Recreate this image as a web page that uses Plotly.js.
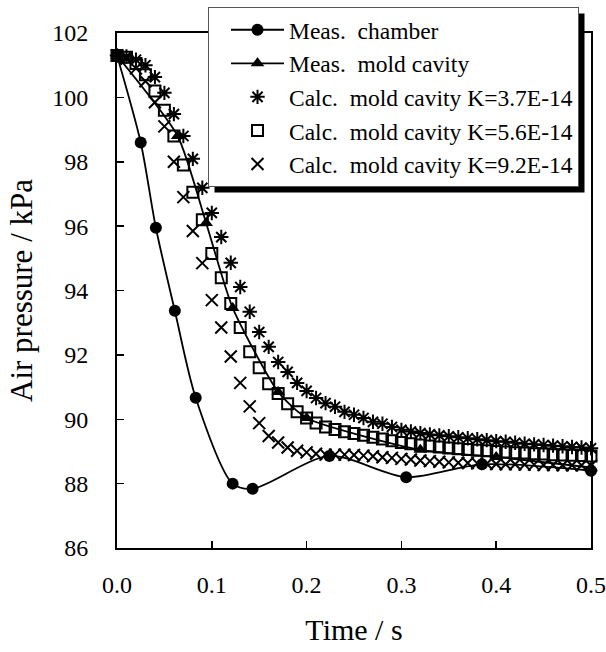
<!DOCTYPE html>
<html>
<head>
<meta charset="utf-8">
<script src="https://cdn.plot.ly/plotly-3.0.1.min.js"></script>
<style>html,body{margin:0;padding:0;background:#fff;}#chart{width:606px;height:652px;}</style>
</head>
<body>
<div id="chart"></div>
<script>
// Measured chamber pressure
var chamberT = [0, 0.025, 0.041, 0.061, 0.083, 0.122, 0.143, 0.224, 0.305, 0.385, 0.5];
var chamberP = [101.3, 98.6, 95.95, 93.37, 90.67, 88.0, 87.84, 88.86, 88.2, 88.6, 88.4];

// Measured mold cavity pressure
var cavityT = [0, 0.064, 0.094, 0.122, 0.17, 0.2, 0.32, 0.40, 0.5];
var cavityP = [101.3, 98.8, 96.1, 93.46, 90.85, 90.04, 89.05, 88.83, 88.5];

// Calculation time grid
var calcT = [0,0.01,0.02,0.03,0.04,0.05,0.06,0.07,0.08,0.09,
  0.10,0.11,0.12,0.13,0.14,0.15,0.16,0.17,0.18,0.19,
  0.20,0.21,0.22,0.23,0.24,0.25,0.26,0.27,0.28,0.29,
  0.30,0.31,0.32,0.33,0.34,0.35,0.36,0.37,0.38,0.39,
  0.40,0.41,0.42,0.43,0.44,0.45,0.46,0.47,0.48,0.49,0.50];

// Calc. K=3.7E-14
var calcK37 = [101.3,101.27,101.17,101.0,100.63,100.14,99.48,98.8,98.09,97.19,
  96.41,95.66,94.86,94.11,93.34,92.71,92.25,91.78,91.47,91.13,
  90.88,90.66,90.5,90.39,90.23,90.14,90.04,89.92,89.86,89.76,
  89.67,89.62,89.57,89.53,89.5,89.47,89.44,89.41,89.38,89.35,
  89.32,89.3,89.27,89.24,89.22,89.2,89.18,89.16,89.14,89.12,89.1];

// Calc. K=5.6E-14
var calcK56 = [101.3,101.25,101.05,100.7,100.2,99.6,98.8,97.9,97.05,96.2,
  95.15,94.4,93.6,92.85,92.1,91.6,91.1,90.8,90.48,90.23,
  90.04,89.88,89.76,89.68,89.61,89.56,89.5,89.44,89.39,89.33,
  89.28,89.24,89.2,89.17,89.14,89.11,89.08,89.06,89.04,89.02,
  89.0,88.98,88.96,88.95,88.93,88.92,88.9,88.89,88.88,88.87,88.86];

// Calc. K=9.2E-14
var calcK92 = [101.3,101.2,100.9,100.5,99.85,99.1,98.0,96.9,95.85,94.85,
  93.7,92.85,91.95,91.13,90.4,89.88,89.48,89.28,89.12,89.02,
  88.97,88.93,88.9,88.9,88.9,88.89,88.87,88.85,88.82,88.8,
  88.77,88.75,88.72,88.7,88.68,88.66,88.65,88.64,88.63,88.62,
  88.61,88.6,88.6,88.59,88.59,88.58,88.58,88.57,88.57,88.57,88.56];

var legendNames = [
  "Meas.\u00a0\u00a0chamber",
  "Meas.\u00a0\u00a0mold cavity",
  "Calc.\u00a0\u00a0mold cavity K=3.7E-14",
  "Calc.\u00a0\u00a0mold cavity K=5.6E-14",
  "Calc.\u00a0\u00a0mold cavity K=9.2E-14"
];

var serif = "Liberation Serif, Times New Roman, serif";

var traces = [
  {x: calcT, y: calcK37, mode: 'markers', name: legendNames[2], legendrank: 3, cliponaxis: false,
   marker: {symbol: 'asterisk-open', size: 12, color: '#000', line: {color: '#000', width: 2}}},
  {x: calcT, y: calcK56, mode: 'markers', name: legendNames[3], legendrank: 4, cliponaxis: false,
   marker: {symbol: 'square-open', size: 11, color: '#000', line: {color: '#000', width: 2}}},
  {x: calcT, y: calcK92, mode: 'markers', name: legendNames[4], legendrank: 5, cliponaxis: false,
   marker: {symbol: 'x-thin-open', size: 12, color: '#000', line: {color: '#000', width: 2}}},
  {x: cavityT, y: cavityP, mode: 'lines+markers', name: legendNames[1], legendrank: 2, cliponaxis: false,
   line: {color: '#000', width: 1.8, shape: 'spline', smoothing: 0.6},
   marker: {symbol: 'triangle-up', size: 12, color: '#000'}},
  {x: chamberT, y: chamberP, mode: 'lines+markers', name: legendNames[0], legendrank: 1, cliponaxis: false,
   line: {color: '#000', width: 1.8, shape: 'spline', smoothing: 0.8},
   marker: {symbol: 'circle', size: 12, color: '#000'}}
];

var layout = {
  width: 606, height: 652,
  margin: {l: 117, r: 15, t: 33, b: 104, autoexpand: false},
  paper_bgcolor: '#fff', plot_bgcolor: '#fff',
  showlegend: true,
  font: {family: serif, color: '#000', size: 24},
  xaxis: {
    range: [0, 0.5], dtick: 0.1, tick0: 0, tickformat: '.1f',
    ticks: 'inside', ticklen: 7, tickwidth: 1.5, tickcolor: '#000',
    showline: true, linewidth: 2, linecolor: '#000', mirror: true,
    showgrid: false, zeroline: false,
    tickfont: {family: serif, size: 24, color: '#000'},
    ticklabelstandoff: 14,
    title: {text: 'Time / s', font: {family: serif, size: 30, color: '#000'}, standoff: 22}
  },
  yaxis: {
    range: [86, 102], dtick: 2, tick0: 86,
    ticks: 'inside', ticklen: 7, tickwidth: 1.5, tickcolor: '#000',
    showline: true, linewidth: 2, linecolor: '#000', mirror: true,
    showgrid: false, zeroline: false,
    tickfont: {family: serif, size: 24, color: '#000'},
    ticklabelstandoff: 22,
    title: {text: 'Air pressure / kPa', font: {family: serif, size: 31, color: '#000'}, standoff: 10}
  },
  legend: {
    x: 0.192, y: 1.0505, xanchor: 'left', yanchor: 'top',
    bgcolor: '#fff', bordercolor: '#555', borderwidth: 1,
    font: {family: serif, size: 23.5, color: '#000'},
    itemwidth: 53, indentation: 17, tracegroupgap: 0
  },
  shapes: []
};

Plotly.newPlot('chart', traces, layout, {displayModeBar: false, staticPlot: true}).then(function (gd) {
  var bg = gd.querySelector('.legend .bg');
  if (!bg) return;
  var r = bg.getBoundingClientRect();
  var c = gd.getBoundingClientRect();
  var fl = gd._fullLayout;
  var off = 6;
  function px2x(px) { return (px - c.left - fl._size.l) / fl._size.w; }
  function px2y(py) { return 1 - (py - c.top - fl._size.t) / fl._size.h; }
  Plotly.relayout(gd, {shapes: [{
    type: 'rect', xref: 'paper', yref: 'paper', layer: 'above',
    x0: px2x(r.left + off), x1: px2x(r.right + off),
    y0: px2y(r.bottom + off), y1: px2y(r.top + off),
    fillcolor: '#000', line: {width: 0}
  }]});
});
</script>
</body>
</html>
